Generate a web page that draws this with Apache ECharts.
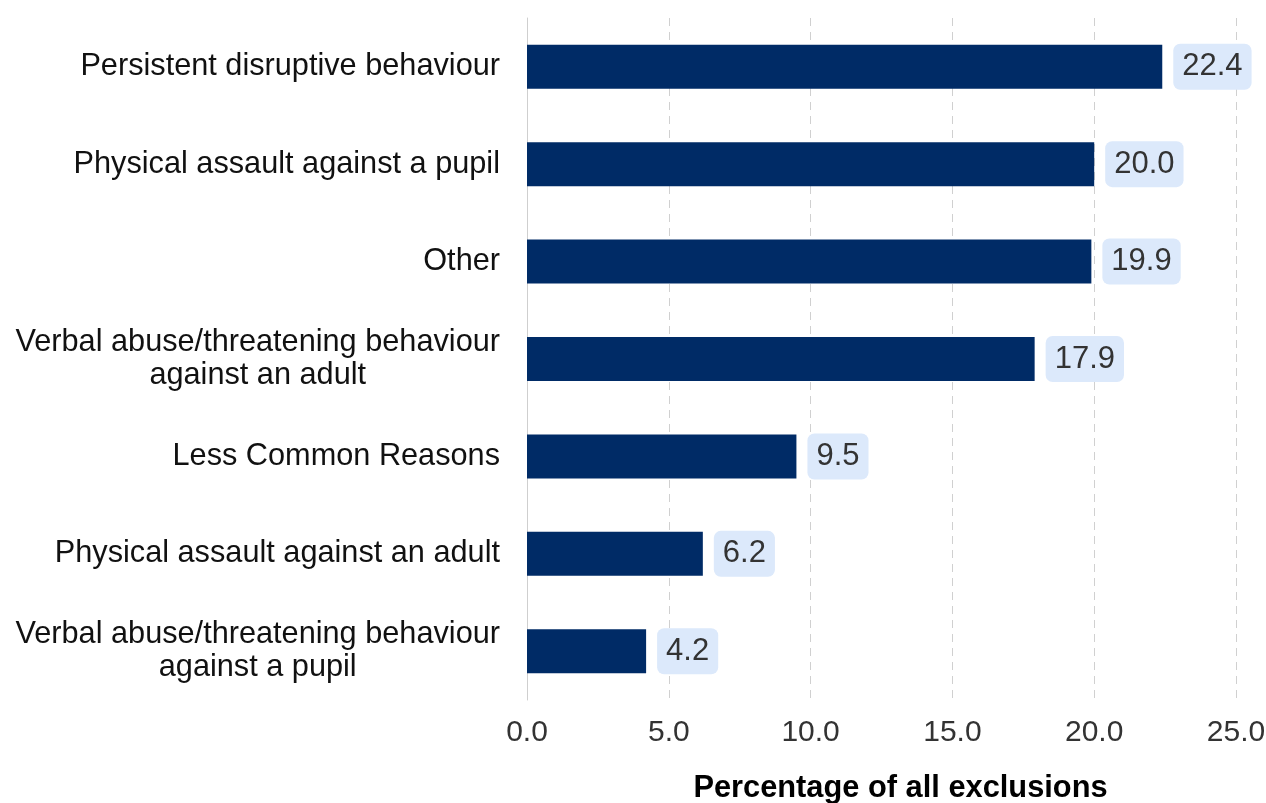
<!DOCTYPE html>
<html>
<head>
<meta charset="utf-8">
<script src="https://cdn.jsdelivr.net/npm/echarts@6/dist/echarts.min.js"></script>
<style>
  html, body { margin: 0; padding: 0; background: #fff; }
  #chart { width: 1266px; height: 803px; }
</style>
</head>
<body>
<div id="chart"></div>
<script>
// reasons, top to bottom
const categories = [
  'Persistent disruptive behaviour',
  'Physical assault against a pupil',
  'Other',
  'Verbal abuse/threatening behaviour\nagainst an adult',
  'Less Common Reasons',
  'Physical assault against an adult',
  'Verbal abuse/threatening behaviour\nagainst a pupil'
]
const values = [22.4, 20.0, 19.9, 17.9, 9.5, 6.2, 4.2]
const xTicks = [0, 5, 10, 15, 20, 25]

const labelFont = '"Liberation Sans", Arial, sans-serif'
const labelSize = 30.7

// width of the longest wrapped line, so wrapped lines can be centred
const ctx = document.createElement('canvas').getContext('2d')
ctx.font = labelSize + 'px ' + labelFont
let wrapWidth = 0
categories.forEach(c => {
  if (c.indexOf('\n') >= 0) {
    c.split('\n').forEach(l => { wrapWidth = Math.max(wrapWidth, ctx.measureText(l).width) })
  }
})

const chart = echarts.init(document.getElementById('chart'))
const option = {
  animation: false,
  grid: { left: 527, right: 30, top: 18, bottom: 103, containLabel: false, outerBoundsMode: 'none' },
  xAxis: {
    type: 'value',
    min: xTicks[0],
    max: xTicks[xTicks.length - 1],
    interval: 5,
    name: 'Percentage of all exclusions',
    nameLocation: 'middle',
    nameGap: 73,
    nameTextStyle: { fontFamily: labelFont, fontSize: 30.8, fontWeight: 'bold', color: '#000', padding: [0, 0, 0, 38] },
    axisLine: { show: false },
    axisTick: { show: false },
    axisLabel: {
      fontFamily: labelFont, fontSize: 30, color: '#333', margin: 18,
      formatter: v => v.toFixed(1)
    },
    splitLine: { lineStyle: { type: [8, 6], color: '#d0d0d0', width: 1 } }
  },
  yAxis: {
    type: 'category',
    data: categories,
    inverse: true,
    axisLine: { show: true, lineStyle: { color: '#cfcfcf', width: 1 } },
    axisTick: { show: false },
    axisLabel: {
      fontFamily: labelFont, fontSize: labelSize, color: '#111', margin: 27,
      lineHeight: 33,
      formatter: v => {
        if (v.indexOf('\n') < 0) return v
        return v.split('\n').map(l => '{c|' + l + '}').join('\n')
      },
      rich: {
        c: { width: wrapWidth, align: 'center', fontFamily: labelFont, fontSize: labelSize, color: '#111', lineHeight: 33 }
      }
    }
  },
  series: [{
    type: 'bar',
    data: values,
    barWidth: 44,
    itemStyle: { color: '#002b66' },
    label: {
      show: true,
      position: 'right',
      distance: 11,
      formatter: p => p.value.toFixed(1),
      fontFamily: labelFont,
      fontSize: 31,
      color: '#333',
      backgroundColor: '#dce9fb',
      borderRadius: 7,
      padding: [8, 9, 7, 9]
    }
  }]
}
chart.setOption(option)
</script>
</body>
</html>
